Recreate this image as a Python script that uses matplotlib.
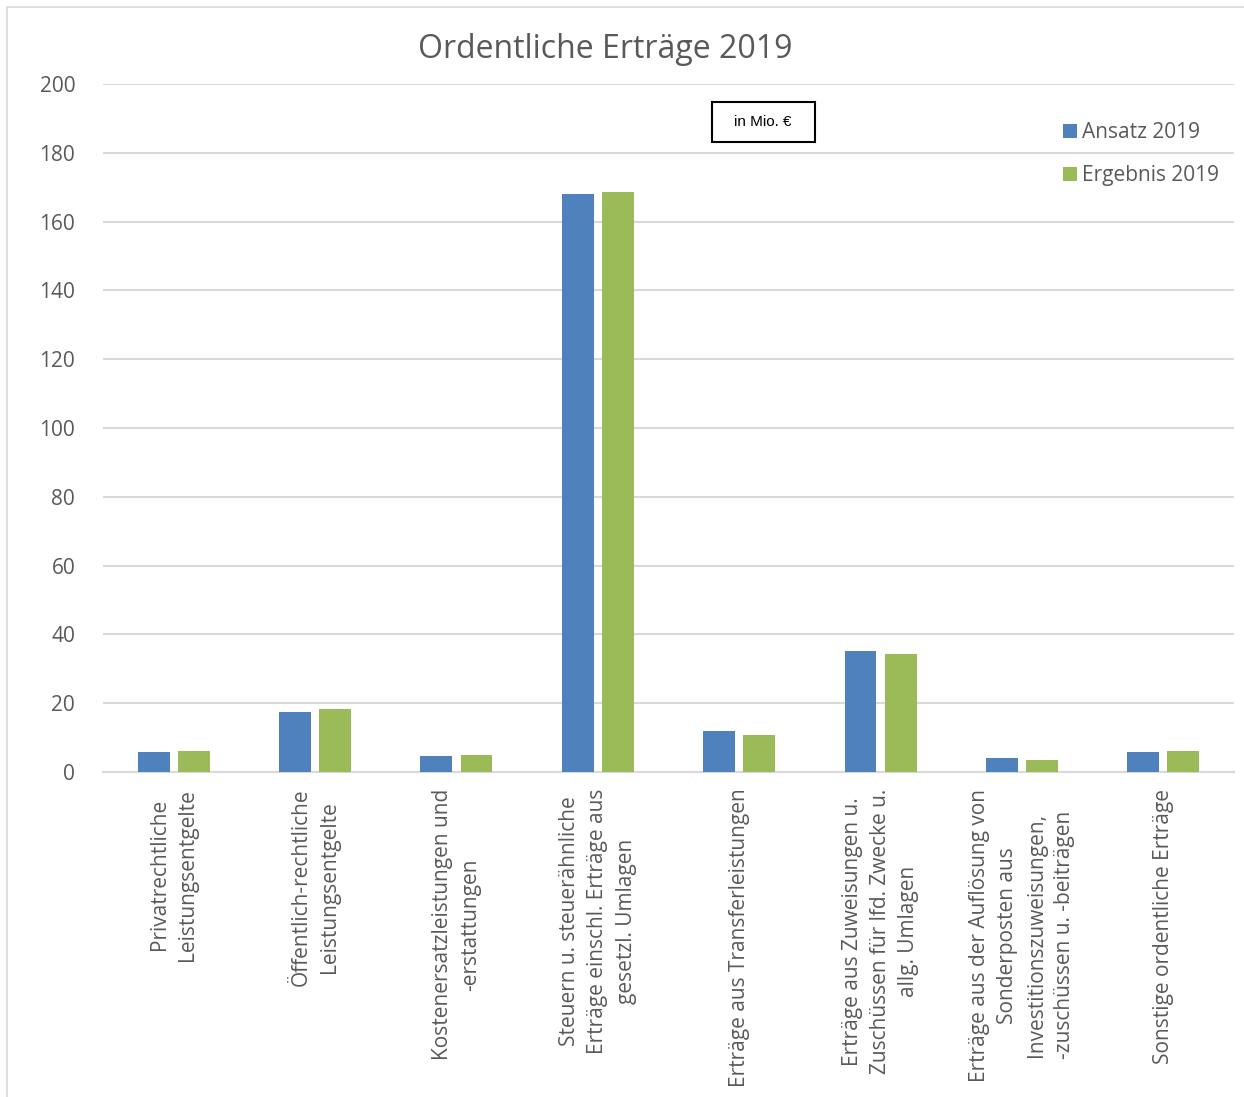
import matplotlib.pyplot as plt
import numpy as np
from matplotlib.patches import Rectangle

categories = [
    "Privatrechtliche\nLeistungsentgelte",
    "Öffentlich-rechtliche\nLeistungsentgelte",
    "Kostenersatzleistungen und\n-erstattungen",
    "Steuern u. steuerähnliche\nErträge einschl. Erträge aus\ngesetzl. Umlagen",
    "Erträge aus Transferleistungen",
    "Erträge aus Zuweisungen u.\nZuschüssen für lfd. Zwecke u.\nallg. Umlagen",
    "Erträge aus der Auflösung von\nSonderposten aus\nInvestitionszuweisungen,\n-zuschüssen u. -beiträgen",
    "Sonstige ordentliche Erträge",
]
ansatz = [5.7, 17.5, 4.6, 168.0, 11.9, 35.2, 4.1, 5.7]
ergebnis = [6.0, 18.3, 4.8, 168.6, 10.7, 34.2, 3.5, 6.0]
yticks = [0, 20, 40, 60, 80, 100, 120, 140, 160, 180, 200]

blue = "#4f81bd"
green = "#9bbb59"
grey_text = "#595959"
grid_grey = "#d9d9d9"

plt.rcParams["font.family"] = ["Open Sans", "DejaVu Sans"]

W, H = 1244, 1097
fig = plt.figure(figsize=(W / 100, H / 100), dpi=100)
ax = fig.add_axes([103 / W, 1 - 772 / H, (1234 - 103) / W, (772 - 84) / H])

x = np.arange(len(categories))
bw = 0.226
off = 0.142
ax.bar(x - off, ansatz, bw, color=blue, label="Ansatz 2019", zorder=3)
ax.bar(x + off, ergebnis, bw, color=green, label="Ergebnis 2019", zorder=3)

ax.set_xlim(-0.5, len(categories) - 0.5)
ax.set_ylim(0, 200)
ax.set_yticks(yticks)
ax.yaxis.grid(True, color=grid_grey, linewidth=1.5, zorder=0)
ax.set_axisbelow(True)
for s in ["top", "right", "left"]:
    ax.spines[s].set_visible(False)
ax.spines["bottom"].set_color(grid_grey)
ax.spines["bottom"].set_linewidth(1.5)
ax.tick_params(axis="y", length=0, pad=20, labelsize=15, labelcolor=grey_text)
ax.tick_params(axis="x", length=0)
ax.set_xticks(x)
ax.set_xticklabels([])

for i, lab in enumerate(categories):
    ax.annotate(lab, xy=(i, 0), xycoords="data", xytext=(0, -12),
                textcoords="offset points", rotation=90, ha="center", va="top",
                multialignment="center", fontsize=15, color=grey_text,
                linespacing=1.45)

fig.text(605 / W, 1 - 49 / H, "Ordentliche Erträge 2019", ha="center",
         va="center", fontsize=23, color=grey_text)

# "in Mio. €" box
fig.patches.append(Rectangle((712 / W, 1 - 142 / H), 103 / W, 40 / H,
                             transform=fig.transFigure, facecolor="white",
                             edgecolor="black", linewidth=1.5, zorder=5))
fig.text(763 / W, 1 - 122 / H, "in Mio. €", ha="center", va="center",
         fontsize=11, family="Liberation Sans", color="black", zorder=6)

fig.legend(loc="upper left", bbox_to_anchor=(1053 / W, 1 - 112 / H),
           frameon=False, fontsize=15, labelcolor=grey_text,
           handlelength=0.65, handleheight=0.65, handletextpad=0.25,
           labelspacing=1.05, borderpad=0)

fig.patches.append(Rectangle((7 / W, -0.01), 1.02, 1 - 7 / H + 0.01,
                             transform=fig.transFigure, fill=False,
                             edgecolor=grid_grey, linewidth=1.2))

fig.savefig("out.png", dpi=100)
